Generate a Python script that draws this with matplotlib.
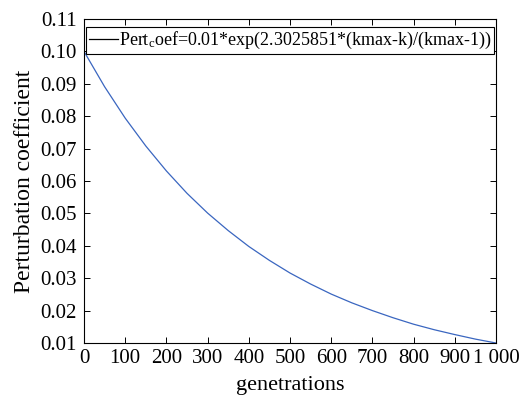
import matplotlib
matplotlib.use("Agg")
import matplotlib.pyplot as plt

plt.rcParams['font.family'] = ['Liberation Serif', 'DejaVu Serif']
plt.rcParams['mathtext.fontset'] = 'custom'
plt.rcParams['mathtext.rm'] = 'Liberation Serif'
plt.rcParams['mathtext.it'] = 'Liberation Serif'

# values
generations = [0, 50, 100, 150, 200, 250, 300, 350, 400, 450, 500,
               550, 600, 650, 700, 750, 800, 850, 900, 950, 1000]
coef = [0.1000, 0.0891, 0.0794, 0.0708, 0.0631, 0.0562, 0.0501, 0.0447,
        0.0398, 0.0355, 0.0316, 0.0282, 0.0251, 0.0224, 0.0200, 0.0178,
        0.0158, 0.0141, 0.0126, 0.0112, 0.0100]
xticks = [0, 100, 200, 300, 400, 500, 600, 700, 800, 900, 1000]
xtick_labels = ['0', '100', '200', '300', '400', '500', '600', '700', '800', '900', '1 000']
yticks = [0.01, 0.02, 0.03, 0.04, 0.05, 0.06, 0.07, 0.08, 0.09, 0.10, 0.11]

fig = plt.figure(figsize=(5.31, 3.97), dpi=100)
# axes box: x 84..496 px, y 19..343 px
ax = fig.add_axes([84 / 531, 1 - 343 / 397, 412 / 531, 324 / 397])

ax.plot(generations, coef, color='#3a66c0', linewidth=0.9,
        label='Pert$_{c}$oef=0.01*exp(2.3025851*(kmax-k)/(kmax-1))')

ax.set_xlim(0, 1000)
ax.set_ylim(0.01, 0.11)
ax.set_xticks(xticks)
ax.set_xticklabels(xtick_labels)
ax.set_yticks(yticks)
ax.set_yticklabels([f'{v:.2f}' for v in yticks])
ax.tick_params(direction='in', top=True, right=True, labelsize=15, length=4, width=0.7)
ax.tick_params(axis='y', pad=5)
ax.tick_params(axis='x', pad=4)
for s in ax.spines.values():
    s.set_linewidth(0.8)

ax.set_xlabel('genetrations', fontsize=16, labelpad=6)
ax.set_ylabel('Perturbation coefficient', fontsize=17, labelpad=4)

leg = ax.legend(loc='upper left', bbox_to_anchor=(0.005, 0.0, 0.99, 0.975), mode='expand',
                fontsize=13, frameon=True, fancybox=False,
                edgecolor='black', framealpha=1, borderpad=0.15, handlelength=1.6,
                handletextpad=0.05, borderaxespad=0.0)
leg.get_frame().set_linewidth(0.8)
leg.legend_handles[0].set_color('black')

fig.savefig('out.png', dpi=100)
